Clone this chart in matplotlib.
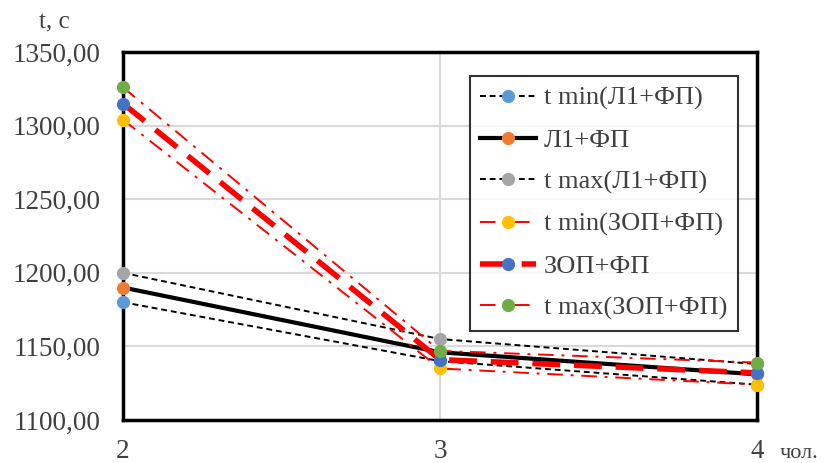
import matplotlib
matplotlib.use("Agg")
import matplotlib.pyplot as plt

x = [2, 3, 4]
labels = ["t min(Л1+ФП)", "Л1+ФП", "t max(Л1+ФП)",
          "t min(ЗОП+ФП)", "ЗОП+ФП", "t max(ЗОП+ФП)"]
tmin_l1 = [1180, 1140, 1124]
l1 = [1190, 1146, 1131]
tmax_l1 = [1200, 1155, 1138]
tmin_zop = [1304, 1135, 1124]
zop = [1315, 1141, 1132]
tmax_zop = [1326, 1147, 1139]
y_ticks = [1100, 1150, 1200, 1250, 1300, 1350]

plt.rcParams['font.family'] = ['Liberation Serif', 'DejaVu Serif']

fig = plt.figure(figsize=(8.24, 4.63), dpi=100)
ax = fig.add_axes([123/824, 1-420/463, 634/824, 368/463])

series = [
    (tmin_l1, dict(color='black', lw=1.4, dashes=(3, 2)), '#5B9BD5'),
    (l1, dict(color='black', lw=3.0, linestyle='-'), '#ED7D31'),
    (tmax_l1, dict(color='black', lw=1.4, dashes=(3, 2)), '#A5A5A5'),
    (tmin_zop, dict(color='#FF0000', lw=1.4, dashes=(8, 4, 1.5, 4)), '#FFC000'),
    (zop, dict(color='#FF0000', lw=4.0, dashes=(5, 2.5)), '#4472C4'),
    (tmax_zop, dict(color='#FF0000', lw=1.4, dashes=(8, 4, 1.5, 4)), '#70AD47'),
]
for i, (vals, st, mc) in enumerate(series):
    ax.plot(x, vals, marker='o', markersize=8.5, markerfacecolor=mc,
            markeredgecolor=mc, clip_on=False, label=labels[i],
            zorder=3 + i, **st)

ax.set_xlim(2, 4)
ax.set_ylim(1100, 1350)
ax.set_xticks(x)
ax.set_xticklabels(['2', '3', '4'])
ax.set_yticks(y_ticks)
ax.set_yticklabels([f"{v},00" for v in y_ticks])
ax.tick_params(axis='y', length=0, labelsize=19.5, colors='#404040', pad=16)
ax.tick_params(axis='x', length=0, labelsize=19.5, colors='#404040', pad=14)
for lab in ax.get_xticklabels() + ax.get_yticklabels():
    lab.set_color('#404040')

for v in y_ticks[1:-1]:
    ax.axhline(v, color='#D9D9D9', lw=1.5, zorder=1)
ax.axvline(3, color='#D9D9D9', lw=1.5, zorder=1)
ax.axvline(2, color='#A0A0A0', lw=1.5, zorder=2)

for s in ax.spines.values():
    s.set_color('black')
    s.set_linewidth(2.5)

fig.text(54/824, 1-22/463, 't, c', fontsize=18, color='#404040',
         ha='center', va='center')
fig.text(799/824, 1-454/463, 'чол.', fontsize=16, color='#404040',
         ha='center', va='center')

leg = ax.legend(loc='upper left', bbox_to_anchor=(0.547, 0.935),
                fontsize=19, frameon=True, fancybox=False,
                edgecolor='black', handlelength=2.1, labelspacing=0.69,
                handletextpad=0.3, borderpad=0.4, borderaxespad=0)
leg.get_frame().set_linewidth(1.5)
for t in leg.get_texts():
    t.set_color('#404040')

fig.savefig('out.png', dpi=100)
